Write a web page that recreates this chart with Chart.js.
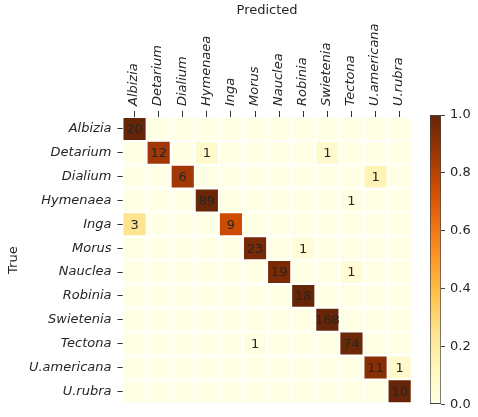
<!DOCTYPE html>
<html>
<head>
<meta charset="utf-8">
<script src="https://cdn.jsdelivr.net/npm/chart.js@4/dist/chart.umd.min.js"></script>
<style>
  html, body { margin: 0; padding: 0; background: #fff; }
  #wrap { position: relative; width: 478px; height: 417px; }
  #matrix { position: absolute; left: 0; top: 0; }
  #colorbar { position: absolute; left: 400px; top: 0; }
</style>
</head>
<body>
<div id="wrap">
  <canvas id="matrix" width="420" height="417"></canvas>
  <canvas id="colorbar" width="78" height="417"></canvas>
</div>
<script>
const species = ['Albizia', 'Detarium', 'Dialium', 'Hymenaea', 'Inga', 'Morus',
    'Nauclea', 'Robinia', 'Swietenia', 'Tectona', 'U.americana', 'U.rubra'];

// rows = true class, columns = predicted class
const counts = [
    [20, 0, 0, 0, 0, 0, 0, 0, 0, 0, 0, 0],
    [0, 12, 0, 1, 0, 0, 0, 0, 1, 0, 0, 0],
    [0, 0, 6, 0, 0, 0, 0, 0, 0, 0, 1, 0],
    [0, 0, 0, 89, 0, 0, 0, 0, 0, 1, 0, 0],
    [3, 0, 0, 0, 9, 0, 0, 0, 0, 0, 0, 0],
    [0, 0, 0, 0, 0, 23, 0, 1, 0, 0, 0, 0],
    [0, 0, 0, 0, 0, 0, 19, 0, 0, 1, 0, 0],
    [0, 0, 0, 0, 0, 0, 0, 18, 0, 0, 0, 0],
    [0, 0, 0, 0, 0, 0, 0, 0, 168, 0, 0, 0],
    [0, 0, 0, 0, 0, 1, 0, 0, 0, 74, 0, 0],
    [0, 0, 0, 0, 0, 0, 0, 0, 0, 0, 11, 1],
    [0, 0, 0, 0, 0, 0, 0, 0, 0, 0, 0, 10]
];

const colorbarTicks = [0, 0.2, 0.4, 0.6, 0.8, 1.0];

// YlOrBr
const cmapStops = ['#ffffe5', '#fff7bc', '#fee391', '#fec44f', '#fe9929',
    '#ec7014', '#cc4c02', '#993404', '#662506'];

const FONT = "'DejaVu Sans', 'Liberation Sans', sans-serif";
const TEXT = '#262626';

function hexToRgb(h) {
    return [1, 3, 5].map(i => parseInt(h.slice(i, i + 2), 16));
}

function cmap(t) {
    t = Math.max(0, Math.min(1, t));
    const pos = t * (cmapStops.length - 1);
    const i = Math.min(Math.floor(pos), cmapStops.length - 2);
    const f = pos - i;
    const a = hexToRgb(cmapStops[i]);
    const b = hexToRgb(cmapStops[i + 1]);
    const c = a.map((v, k) => Math.round(v + (b[k] - v) * f));
    return `rgb(${c[0]}, ${c[1]}, ${c[2]})`;
}

const rowTotals = counts.map(r => r.reduce((s, v) => s + v, 0));

const datasets = counts.map((row, r) => ({
    label: species[r],
    data: row.map(() => [r - 0.5, r + 0.5]),
    backgroundColor: row.map(v => cmap(v / rowTotals[r])),
    borderColor: '#ffffff',
    borderWidth: 1.3,
    borderSkipped: false,
    barPercentage: 1,
    categoryPercentage: 1,
    grouped: false
}));

const cellText = {
    id: 'cellText',
    afterDatasetsDraw(chart) {
        const ctx = chart.ctx;
        ctx.save();
        ctx.font = `13px ${FONT}`;
        ctx.fillStyle = TEXT;
        ctx.textAlign = 'center';
        ctx.textBaseline = 'middle';
        counts.forEach((row, r) => {
            const meta = chart.getDatasetMeta(r);
            meta.data.forEach((bar, c) => {
                const v = row[c];
                if (!v) return;
                ctx.fillText(String(v), bar.x, (bar.y + bar.base) / 2 + 1);
            });
        });
        ctx.restore();
    }
};

new Chart(document.getElementById('matrix'), {
    type: 'bar',
    data: { labels: species, datasets },
    options: {
        responsive: false,
        animation: false,
        layout: { padding: { left: 0, right: 8.3, top: 0, bottom: 10 } },
        plugins: { legend: { display: false }, tooltip: { enabled: false } },
        scales: {
            x: {
                type: 'category',
                position: 'top',
                offset: true,
                afterFit: (scale) => { scale.height = 117; },
                grid: { offset: false, drawOnChartArea: false, drawTicks: true, tickLength: 6, color: '#333' },
                border: { display: false },
                ticks: {
                    autoSkip: false,
                    minRotation: 90,
                    maxRotation: 90,
                    padding: 5,
                    labelOffset: 15,
                    color: TEXT,
                    font: { family: FONT, size: 13, style: 'italic' }
                },
                title: {
                    display: true,
                    text: 'Predicted',
                    color: TEXT,
                    padding: { top: 3, bottom: 0 },
                    font: { family: FONT, size: 13 }
                }
            },
            y: {
                type: 'linear',
                reverse: true,
                min: -0.5,
                max: 11.5,
                afterBuildTicks: (scale) => { scale.ticks = species.map((_, i) => ({ value: i })); },
                afterFit: (scale) => { scale.width = 122.5; },
                grid: { drawOnChartArea: false, drawTicks: true, tickLength: 5, color: '#333' },
                border: { display: false },
                ticks: {
                    autoSkip: false,
                    padding: 6,
                    color: TEXT,
                    font: { family: FONT, size: 13, style: 'italic' },
                    callback: (v) => species[v]
                },
                title: {
                    display: true,
                    text: 'True',
                    color: TEXT,
                    padding: { top: 6, bottom: 0 },
                    font: { family: FONT, size: 13 }
                }
            }
        }
    },
    plugins: [cellText]
});

// colour bar
function barGradient(context) {
    const area = context.chart.chartArea;
    if (!area) return cmapStops[0];
    const g = context.chart.ctx.createLinearGradient(0, area.bottom, 0, area.top);
    cmapStops.forEach((c, i) => g.addColorStop(i / (cmapStops.length - 1), c));
    return g;
}

new Chart(document.getElementById('colorbar'), {
    type: 'bar',
    data: {
        labels: [''],
        datasets: [{
            data: [[colorbarTicks[0], colorbarTicks[colorbarTicks.length - 1]]],
            backgroundColor: barGradient,
            borderColor: '#444',
            borderWidth: 1,
            borderSkipped: false,
            barPercentage: 1,
            categoryPercentage: 1
        }]
    },
    options: {
        responsive: false,
        animation: false,
        layout: { padding: { left: 30, right: 0, top: 115, bottom: 9 } },
        plugins: { legend: { display: false }, tooltip: { enabled: false } },
        scales: {
            x: { display: false },
            y: {
                position: 'right',
                min: 0,
                max: 1,
                afterBuildTicks: (scale) => { scale.ticks = colorbarTicks.map(v => ({ value: v })); },
                afterFit: (scale) => { scale.width = 37; },
                grid: { drawOnChartArea: false, drawTicks: true, tickLength: 4, color: '#444' },
                border: { display: false },
                ticks: {
                    padding: 5,
                    color: TEXT,
                    font: { family: FONT, size: 13 },
                    callback: (v) => v.toFixed(1)
                }
            }
        }
    }
});
</script>
</body>
</html>
